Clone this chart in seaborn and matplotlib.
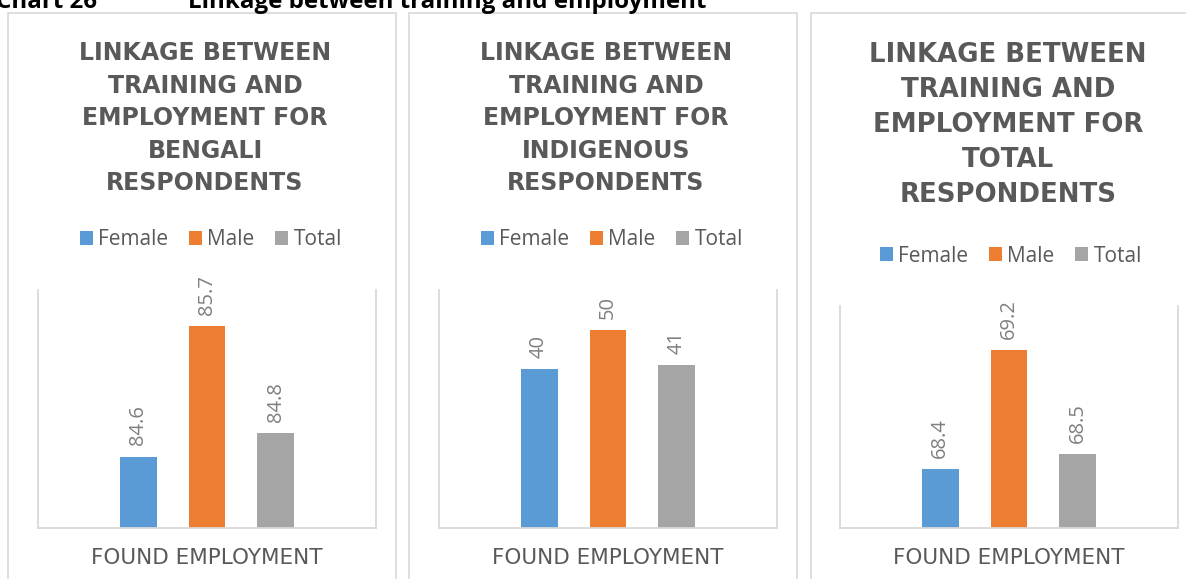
import matplotlib
matplotlib.use("Agg")
import matplotlib.pyplot as plt
from matplotlib.patches import Rectangle
import pandas as pd
import seaborn as sns

# Data
groups = ["BENGALI", "INDIGENOUS", "TOTAL"]
category = "FOUND EMPLOYMENT"
series = ["Female", "Male", "Total"]
female = [84.6, 40, 68.4]
male = [85.7, 50, 69.2]
total = [84.8, 41, 68.5]
y_limits = [(84.0, 86.0), (0, 60), (68.0, 69.5)]

colors = ["#5B9BD5", "#ED7D31", "#A5A5A5"]
TXT = "#595959"
LBL = "#7F7F7F"
GRID = "#D9D9D9"

sns.set_theme(style="white")
plt.rcParams["font.family"] = ["Open Sans", "DejaVu Sans"]

W, H = 1186, 579
fig = plt.figure(figsize=(W / 100, H / 100), dpi=100)


def fx(px):
    return px / W


def fy(py):
    return 1 - py / H


# Page heading, running off the top edge
fig.text(fx(97), fy(8), "Chart 26", ha="right", va="baseline",
         fontsize=17.4, fontweight="bold", color="black")
fig.text(fx(188), fy(8), "Linkage between training and employment", ha="left",
         va="baseline", fontsize=17.4, fontweight="bold", color="black")

# Panel frames
frames = [(8, 396), (409, 797), (811, 1200)]
for x0, x1 in frames:
    fig.patches.append(Rectangle((fx(x0), fy(600)), fx(x1 - x0), (600 - 13) / H,
                                 transform=fig.transFigure, fill=False,
                                 edgecolor=GRID, linewidth=1.2))

# Plot areas (px): left, right, top, bottom
areas = [(38, 376, 290, 528), (439, 777, 290, 528), (840, 1178, 306, 528)]
# title centre x, top y, font size, line spacing
title_pos = [(205, 41, 17, 1.45), (606, 41, 17, 1.45), (1008, 42, 18.7, 1.45)]
legend_pos = [(211, 240), (612, 240), (1011, 256)]

for i, g in enumerate(groups):
    l, r, t, b = areas[i]
    ax = fig.add_axes([fx(l), fy(b), fx(r - l), (b - t) / H])
    df = pd.DataFrame({
        "category": [category] * 3,
        "series": series,
        "value": [female[i], male[i], total[i]],
    })
    sns.barplot(data=df, x="category", y="value", hue="series",
                hue_order=series, palette=colors, saturation=1,
                width=0.612, gap=0.464, linewidth=0, ax=ax)
    handles, labels = ax.get_legend_handles_labels()
    if ax.get_legend() is not None:
        ax.get_legend().remove()

    for cont in ax.containers:
        ax.bar_label(cont, fmt="%g", rotation=90, padding=8,
                     color=LBL, fontsize=14.5)

    ax.set_xlim(-0.5, 0.5)
    ax.set_ylim(*y_limits[i])
    ax.set_yticks([])
    ax.set_xlabel("")
    ax.set_ylabel("")
    ax.tick_params(axis="x", length=0, pad=14.5)
    for lab in ax.get_xticklabels():
        lab.set_color(TXT)
        lab.set_fontfamily("DejaVu Sans")
        lab.set_fontsize(15.5)
    ax.spines["top"].set_visible(False)
    for s in ("left", "right", "bottom"):
        ax.spines[s].set_color(GRID)
        ax.spines[s].set_linewidth(1.3)

    tx, ty, tsize, tls = title_pos[i]
    title = "LINKAGE BETWEEN\nTRAINING AND\nEMPLOYMENT FOR\n{}\nRESPONDENTS".format(g)
    fig.text(fx(tx), fy(ty), title, ha="center", va="top",
             fontsize=tsize, fontweight="bold", color=TXT, linespacing=tls,
             family="DejaVu Sans")

    lx, ly = legend_pos[i]
    ax.legend(handles, labels, loc="center", bbox_to_anchor=(fx(lx), fy(ly)),
              bbox_transform=fig.transFigure, ncol=3, frameon=False,
              fontsize=15, labelcolor=TXT, handlelength=0.62, handleheight=0.62,
              handletextpad=0.25, columnspacing=1.0)

fig.savefig("out.png", dpi=100, facecolor="white")
